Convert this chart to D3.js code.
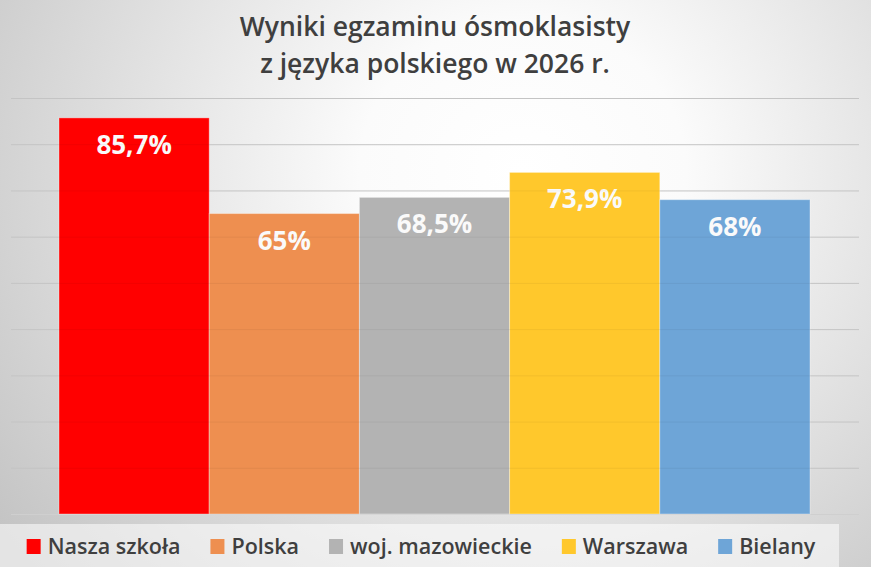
<!DOCTYPE html>
<html>
<head>
<meta charset="utf-8">
<script src="https://cdn.jsdelivr.net/npm/d3@7"></script>
<style>
  html, body { margin: 0; padding: 0; background: #fff; }
  svg { display: block; font-family: "Open Sans", "Noto Sans", sans-serif; }
  .grid line { stroke: #cfcfcf; stroke-width: 1; }
  .grid.over line { stroke: rgba(0,0,0,0.05); }
  .grid path { display: none; }
  .grid text { display: none; }
</style>
</head>
<body>
<div id="chart"></div>
<script>
// chart data
var titleLines = ['Wyniki egzaminu ósmoklasisty', 'z języka polskiego w 2026 r.'];
var categories = ['Nasza szkoła', 'Polska', 'woj. mazowieckie', 'Warszawa', 'Bielany'];
var values = [85.7, 65, 68.5, 73.9, 68];
var valueLabels = ['85,7%', '65%', '68,5%', '73,9%', '68%'];
var colors = ['#ff0000', '#ee8f50', '#b3b3b3', '#ffc82c', '#6ea5d7'];
var gridTicks = [0, 10, 20, 30, 40, 50, 60, 70, 80, 90];

var width = 871,
    height = 567,
    gridLeft = 11,
    gridRight = 859,
    barLeft = 59,
    barRight = 810,
    plotTop = 98,
    plotBottom = 514;

var svg = d3.select('#chart').append('svg')
    .attr('width', width)
    .attr('height', height);

// background gradient
var defs = svg.append('defs');
var bg = defs.append('radialGradient')
    .attr('id', 'bg')
    .attr('cx', '0.6').attr('cy', '0.3')
    .attr('r', '0.75')
    .attr('gradientTransform', 'translate(0.6,0.3) scale(1,1.4) translate(-0.6,-0.3)');
bg.append('stop').attr('offset', '0%').attr('stop-color', '#ffffff');
bg.append('stop').attr('offset', '25%').attr('stop-color', '#fbfbfb');
bg.append('stop').attr('offset', '100%').attr('stop-color', '#c4c4c4');

svg.append('rect')
    .attr('width', width)
    .attr('height', height)
    .attr('fill', 'url(#bg)');

// scales
var y = d3.scaleLinear().domain([0, 90]).range([plotBottom, plotTop]);
var x = d3.scaleBand().domain(categories).range([barLeft, barRight]).padding(0);

// gridlines through axis
var yAxis = d3.axisLeft(y)
    .tickValues(gridTicks)
    .tickSize(-(gridRight - gridLeft))
    .tickFormat('');

svg.append('g')
    .attr('class', 'grid')
    .attr('transform', 'translate(' + gridLeft + ',0)')
    .call(yAxis);

// bars
var bars = svg.append('g').attr('class', 'bars');
bars.selectAll('rect')
    .data(values)
    .enter().append('rect')
    .attr('x', (d, i) => x(categories[i]))
    .attr('y', (d) => y(d))
    .attr('width', x.bandwidth())
    .attr('height', (d) => y(0) - y(d))
    .attr('fill', (d, i) => colors[i])
    .attr('stroke', 'rgba(255,255,255,0.35)')
    .attr('stroke-width', 1);

// faint gridlines showing through the bars
svg.append('g')
    .attr('class', 'grid over')
    .attr('transform', 'translate(' + gridLeft + ',0)')
    .call(yAxis.tickValues(gridTicks.filter((t) => t > 0)));

// value labels
bars.selectAll('text')
    .data(values)
    .enter().append('text')
    .attr('x', (d, i) => x(categories[i]) + x.bandwidth() / 2)
    .attr('y', (d) => y(d) + 36)
    .attr('text-anchor', 'middle')
    .attr('fill', '#fafafa')
    .style('font-size', '26px')
    .style('font-weight', 700)
    .text((d, i) => valueLabels[i]);

// title
svg.append('g').selectAll('text')
    .data(titleLines)
    .enter().append('text')
    .attr('x', 435)
    .attr('y', (d, i) => 36 + i * 37)
    .attr('text-anchor', 'middle')
    .attr('fill', '#3f3f3f')
    .style('font-size', '26.5px')
    .style('font-weight', 600)
    .text((d) => d);

// legend
svg.append('rect')
    .attr('x', 0)
    .attr('y', 524)
    .attr('width', 839)
    .attr('height', height - 524)
    .attr('fill', 'rgba(255,255,255,0.55)');

var legend = svg.append('g').attr('class', 'legend');
var items = legend.selectAll('g')
    .data(categories)
    .enter().append('g');

items.append('rect')
    .attr('width', 14)
    .attr('height', 15)
    .attr('y', 539)
    .attr('fill', (d, i) => colors[i]);

items.append('text')
    .attr('y', 554)
    .attr('fill', '#3f3f3f')
    .style('font-size', '21.5px')
    .style('font-weight', 600)
    .text((d) => d);

// place items side by side, centred
var swatchGap = 7, itemGap = 30;
var widths = [];
items.select('text').each(function() { widths.push(this.getComputedTextLength()); });
var total = d3.sum(widths) + categories.length * (14 + swatchGap) + (categories.length - 1) * itemGap;
var cursor = 421 - total / 2;
items.each(function(d, i) {
    var g = d3.select(this);
    g.select('rect').attr('x', cursor);
    g.select('text').attr('x', cursor + 14 + swatchGap);
    cursor += 14 + swatchGap + widths[i] + itemGap;
});
</script>
</body>
</html>
